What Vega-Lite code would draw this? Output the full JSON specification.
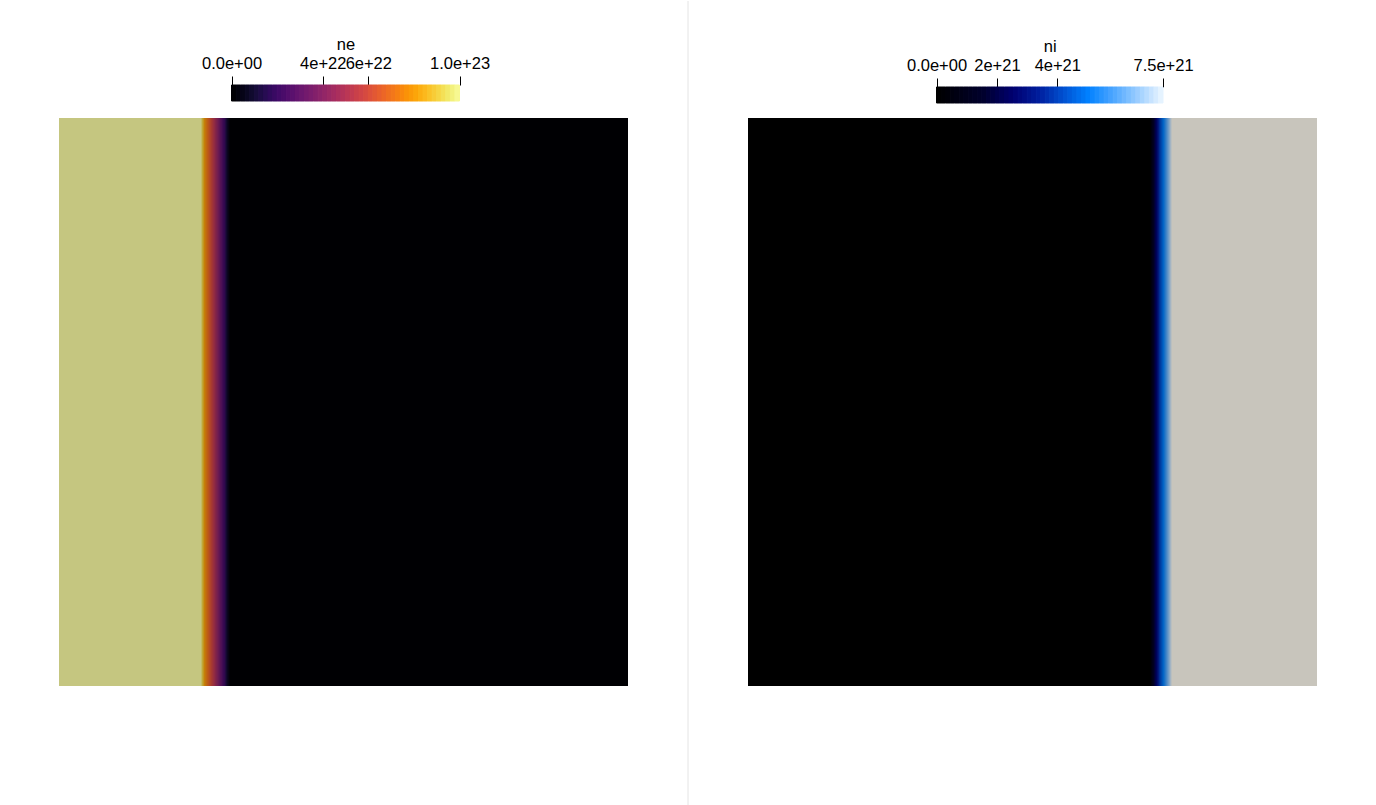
{
  "$schema": "https://vega.github.io/schema/vega-lite/v6.json",
  "background": "white",
  "padding": {"left": 59, "top": 0, "right": 0, "bottom": 0},
  "config": {"view": {"stroke": null}, "font": "Liberation Sans"},
  "resolve": {"scale": {"x": "independent", "color": "independent", "fill": "independent", "stroke": "independent"}},
  "datasets": {
    "neBar": [
      {"v":0,"w":2e21},{"v":2e21,"w":4e21},{"v":4e21,"w":6e21},{"v":6e21,"w":8e21},{"v":8e21,"w":1e22},
      {"v":1e22,"w":1.2e22},{"v":1.2e22,"w":1.4e22},{"v":1.4e22,"w":1.6e22},{"v":1.6e22,"w":1.8e22},{"v":1.8e22,"w":2e22},
      {"v":2e22,"w":2.2e22},{"v":2.2e22,"w":2.4e22},{"v":2.4e22,"w":2.6e22},{"v":2.6e22,"w":2.8e22},{"v":2.8e22,"w":3e22},
      {"v":3e22,"w":3.2e22},{"v":3.2e22,"w":3.4e22},{"v":3.4e22,"w":3.6e22},{"v":3.6e22,"w":3.8e22},{"v":3.8e22,"w":4e22},
      {"v":4e22,"w":4.2e22},{"v":4.2e22,"w":4.4e22},{"v":4.4e22,"w":4.6e22},{"v":4.6e22,"w":4.8e22},{"v":4.8e22,"w":5e22},
      {"v":5e22,"w":5.2e22},{"v":5.2e22,"w":5.4e22},{"v":5.4e22,"w":5.6e22},{"v":5.6e22,"w":5.8e22},{"v":5.8e22,"w":6e22},
      {"v":6e22,"w":6.2e22},{"v":6.2e22,"w":6.4e22},{"v":6.4e22,"w":6.6e22},{"v":6.6e22,"w":6.8e22},{"v":6.8e22,"w":7e22},
      {"v":7e22,"w":7.2e22},{"v":7.2e22,"w":7.4e22},{"v":7.4e22,"w":7.6e22},{"v":7.6e22,"w":7.8e22},{"v":7.8e22,"w":8e22},
      {"v":8e22,"w":8.2e22},{"v":8.2e22,"w":8.4e22},{"v":8.4e22,"w":8.6e22},{"v":8.6e22,"w":8.8e22},{"v":8.8e22,"w":9e22},
      {"v":9e22,"w":9.2e22},{"v":9.2e22,"w":9.4e22},{"v":9.4e22,"w":9.6e22},{"v":9.6e22,"w":9.8e22},{"v":9.8e22,"w":1e23}
    ],
    "niBar": [
      {"v":0,"w":1.5e20},{"v":1.5e20,"w":3e20},{"v":3e20,"w":4.5e20},{"v":4.5e20,"w":6e20},{"v":6e20,"w":7.5e20},
      {"v":7.5e20,"w":9e20},{"v":9e20,"w":1.05e21},{"v":1.05e21,"w":1.2e21},{"v":1.2e21,"w":1.35e21},{"v":1.35e21,"w":1.5e21},
      {"v":1.5e21,"w":1.65e21},{"v":1.65e21,"w":1.8e21},{"v":1.8e21,"w":1.95e21},{"v":1.95e21,"w":2.1e21},{"v":2.1e21,"w":2.25e21},
      {"v":2.25e21,"w":2.4e21},{"v":2.4e21,"w":2.55e21},{"v":2.55e21,"w":2.7e21},{"v":2.7e21,"w":2.85e21},{"v":2.85e21,"w":3e21},
      {"v":3e21,"w":3.15e21},{"v":3.15e21,"w":3.3e21},{"v":3.3e21,"w":3.45e21},{"v":3.45e21,"w":3.6e21},{"v":3.6e21,"w":3.75e21},
      {"v":3.75e21,"w":3.9e21},{"v":3.9e21,"w":4.05e21},{"v":4.05e21,"w":4.2e21},{"v":4.2e21,"w":4.35e21},{"v":4.35e21,"w":4.5e21},
      {"v":4.5e21,"w":4.65e21},{"v":4.65e21,"w":4.8e21},{"v":4.8e21,"w":4.95e21},{"v":4.95e21,"w":5.1e21},{"v":5.1e21,"w":5.25e21},
      {"v":5.25e21,"w":5.4e21},{"v":5.4e21,"w":5.55e21},{"v":5.55e21,"w":5.7e21},{"v":5.7e21,"w":5.85e21},{"v":5.85e21,"w":6e21},
      {"v":6e21,"w":6.15e21},{"v":6.15e21,"w":6.3e21},{"v":6.3e21,"w":6.45e21},{"v":6.45e21,"w":6.6e21},{"v":6.6e21,"w":6.75e21},
      {"v":6.75e21,"w":6.9e21},{"v":6.9e21,"w":7.05e21},{"v":7.05e21,"w":7.2e21},{"v":7.2e21,"w":7.35e21},{"v":7.35e21,"w":7.5e21}
    ],
    "neProfile": [
      {"x":0,"x2":0.24956,"ne":1e23},
      {"x":0.24956,"x2":0.25132,"ne":9.6e22},
      {"x":0.25132,"x2":0.25308,"ne":9.0e22},
      {"x":0.25308,"x2":0.25483,"ne":8.5e22},
      {"x":0.25483,"x2":0.25659,"ne":8.0e22},
      {"x":0.25659,"x2":0.25835,"ne":7.6e22},
      {"x":0.25835,"x2":0.26011,"ne":7.3e22},
      {"x":0.26011,"x2":0.26186,"ne":7.0e22},
      {"x":0.26186,"x2":0.26362,"ne":6.7e22},
      {"x":0.26362,"x2":0.26538,"ne":6.4e22},
      {"x":0.26538,"x2":0.26714,"ne":6.1e22},
      {"x":0.26714,"x2":0.26889,"ne":5.8e22},
      {"x":0.26889,"x2":0.27065,"ne":5.5e22},
      {"x":0.27065,"x2":0.27241,"ne":5.2e22},
      {"x":0.27241,"x2":0.27417,"ne":4.9e22},
      {"x":0.27417,"x2":0.27592,"ne":4.6e22},
      {"x":0.27592,"x2":0.27768,"ne":4.3e22},
      {"x":0.27768,"x2":0.27944,"ne":4.0e22},
      {"x":0.27944,"x2":0.28120,"ne":3.7e22},
      {"x":0.28120,"x2":0.28295,"ne":3.4e22},
      {"x":0.28295,"x2":0.28471,"ne":3.1e22},
      {"x":0.28471,"x2":0.28647,"ne":2.8e22},
      {"x":0.28647,"x2":0.28822,"ne":2.5e22},
      {"x":0.28822,"x2":0.28998,"ne":2.2e22},
      {"x":0.28998,"x2":0.29174,"ne":1.9e22},
      {"x":0.29174,"x2":0.29350,"ne":1.5e22},
      {"x":0.29350,"x2":0.29525,"ne":1.1e22},
      {"x":0.29525,"x2":0.29701,"ne":7e21},
      {"x":0.29701,"x2":0.29877,"ne":4e21},
      {"x":0.29877,"x2":0.30053,"ne":1.5e21},
      {"x":0.30053,"x2":1,"ne":0}
    ],
    "niProfile": [
      {"x":0,"x2":0.70650,"ni":0},
      {"x":0.70650,"x2":0.70826,"ni":2e20},
      {"x":0.70826,"x2":0.71002,"ni":6e20},
      {"x":0.71002,"x2":0.71178,"ni":1.0e21},
      {"x":0.71178,"x2":0.71353,"ni":1.4e21},
      {"x":0.71353,"x2":0.71529,"ni":1.8e21},
      {"x":0.71529,"x2":0.71705,"ni":2.2e21},
      {"x":0.71705,"x2":0.71880,"ni":2.6e21},
      {"x":0.71880,"x2":0.72056,"ni":3.0e21},
      {"x":0.72056,"x2":0.72232,"ni":3.4e21},
      {"x":0.72232,"x2":0.72408,"ni":3.8e21},
      {"x":0.72408,"x2":0.72583,"ni":4.1e21},
      {"x":0.72583,"x2":0.72759,"ni":4.4e21},
      {"x":0.72759,"x2":0.72935,"ni":4.7e21},
      {"x":0.72935,"x2":0.73111,"ni":5.0e21},
      {"x":0.73111,"x2":0.73286,"ni":5.3e21},
      {"x":0.73286,"x2":0.73462,"ni":5.6e21},
      {"x":0.73462,"x2":0.73638,"ni":5.9e21},
      {"x":0.73638,"x2":0.73814,"ni":6.2e21},
      {"x":0.73814,"x2":0.73989,"ni":6.5e21},
      {"x":0.73989,"x2":0.74165,"ni":6.8e21},
      {"x":0.74165,"x2":0.74341,"ni":7.1e21},
      {"x":0.74341,"x2":0.74517,"ni":7.35e21},
      {"x":0.74517,"x2":1,"ni":7.5e21}
    ],
    "sep": [{"p": 0}]
  },
  "spacing": 59.5,
  "hconcat": [
    {
      "spacing": 16,
      "resolve": {"scale": {"x": "independent", "color": "independent", "fill": "independent", "stroke": "independent"}},
      "vconcat": [
        {"width": 569, "height": 19, "data": {"values": []}, "mark": "point", "encoding": {}},
        {
          "width": 569, "height": 16,
          "data": {"name": "neBar"},
          "mark": {"type": "rect", "strokeWidth": 1},
          "encoding": {
            "x": {"field": "v", "type": "quantitative",
              "scale": {"domain": [0, 1e23], "range": [172.5, 400.5], "nice": false, "zero": false},
              "axis": {"orient": "top", "values": [0, 4e22, 6e22, 1e23],
                "labelExpr": "datum.value < 2e22 ? '0.0e+00' : datum.value < 5e22 ? '4e+22' : datum.value < 8e22 ? '6e+22' : '1.0e+23'",
                "domain": false, "grid": false, "ticks": true, "tickSize": 9, "tickColor": "#000000", "tickWidth": 1,
                "labelFont": "Liberation Sans", "labelFontSize": 16.5, "labelColor": "#000000", "labelPadding": 5,
                "labelOverlap": false, "labelFlush": false, "labelBound": false,
                "title": "ne", "titleFont": "Liberation Sans", "titleFontSize": 16.5, "titleFontWeight": "normal", "titleColor": "#000000", "titlePadding": 3}},
            "x2": {"field": "w"},
            "fill": {"field": "v", "type": "quantitative", "scale": {"scheme": "inferno", "domain": [0, 1e23]}, "legend": null},
            "stroke": {"field": "v", "type": "quantitative", "scale": {"scheme": "inferno", "domain": [0, 1e23]}, "legend": null}
          }
        },
        {
          "width": 569, "height": 568,
          "data": {"name": "neProfile"},
          "mark": "rect",
          "encoding": {
            "x": {"field": "x", "type": "quantitative", "scale": {"domain": [0, 1], "nice": false}, "axis": null},
            "x2": {"field": "x2"},
            "color": {"field": "ne", "type": "quantitative", "legend": null,
              "scale": {"domain": [0, 1e22, 2e22, 3e22, 4e22, 5e22, 6e22, 7e22, 8e22, 9e22, 1e23],
                "range": ["#000003", "#11092c", "#330851", "#531256", "#731e50", "#932b42", "#ac3f2d", "#be5e14", "#c58108", "#c0a837", "#c5c680"],
                "interpolate": "rgb"}}
          }
        }
      ]
    },
    {
      "width": 1, "height": 805,
      "data": {"name": "sep"},
      "mark": {"type": "rule", "color": "#e4e4e4", "strokeWidth": 1},
      "encoding": {"x": {"field": "p", "type": "quantitative", "scale": {"domain": [-1, 1], "nice": false, "zero": false}, "axis": null}}
    },
    {
      "spacing": 14,
      "resolve": {"scale": {"x": "independent", "color": "independent", "fill": "independent", "stroke": "independent"}},
      "vconcat": [
        {"width": 569, "height": 23, "data": {"values": []}, "mark": "point", "encoding": {}},
        {
          "width": 569, "height": 16,
          "data": {"name": "niBar"},
          "mark": {"type": "rect", "strokeWidth": 1},
          "encoding": {
            "x": {"field": "v", "type": "quantitative",
              "scale": {"domain": [0, 7.5e21], "range": [188.5, 415], "nice": false, "zero": false},
              "axis": {"orient": "top", "values": [0, 2e21, 4e21, 7.5e21],
                "labelExpr": "datum.value < 1e21 ? '0.0e+00' : datum.value < 3e21 ? '2e+21' : datum.value < 5e21 ? '4e+21' : '7.5e+21'",
                "domain": false, "grid": false, "ticks": true, "tickSize": 9, "tickColor": "#000000", "tickWidth": 1,
                "labelFont": "Liberation Sans", "labelFontSize": 16.5, "labelColor": "#000000", "labelPadding": 5,
                "labelOverlap": false, "labelFlush": false, "labelBound": false,
                "title": "ni", "titleFont": "Liberation Sans", "titleFontSize": 16.5, "titleFontWeight": "normal", "titleColor": "#000000", "titlePadding": 3}},
            "x2": {"field": "w"},
            "fill": {"field": "v", "type": "quantitative", "legend": null,
              "scale": {"domain": [0, 1.5e21, 2.475e21, 3.375e21, 4.125e21, 4.95e21, 6e21, 6.9e21, 7.5e21],
                "range": ["#000000", "#00002e", "#000070", "#0020a0", "#0050d0", "#0080ff", "#60b0ff", "#b8dcff", "#f4faff"], "interpolate": "rgb"}},
            "stroke": {"field": "v", "type": "quantitative", "legend": null,
              "scale": {"domain": [0, 1.5e21, 2.475e21, 3.375e21, 4.125e21, 4.95e21, 6e21, 6.9e21, 7.5e21],
                "range": ["#000000", "#00002e", "#000070", "#0020a0", "#0050d0", "#0080ff", "#60b0ff", "#b8dcff", "#f4faff"], "interpolate": "rgb"}}
          }
        },
        {
          "width": 569, "height": 568,
          "data": {"name": "niProfile"},
          "mark": "rect",
          "encoding": {
            "x": {"field": "x", "type": "quantitative", "scale": {"domain": [0, 1], "nice": false}, "axis": null},
            "x2": {"field": "x2"},
            "color": {"field": "ni", "type": "quantitative", "legend": null,
              "scale": {"domain": [0, 1.5e21, 2.475e21, 3.375e21, 4.125e21, 4.95e21, 6e21, 6.9e21, 7.5e21],
                "range": ["#000000", "#000024", "#000057", "#00197d", "#003ea2", "#0064c7", "#4b89c7", "#90acc7", "#c8c5bc"],
                "interpolate": "rgb"}}
          }
        }
      ]
    }
  ]
}
